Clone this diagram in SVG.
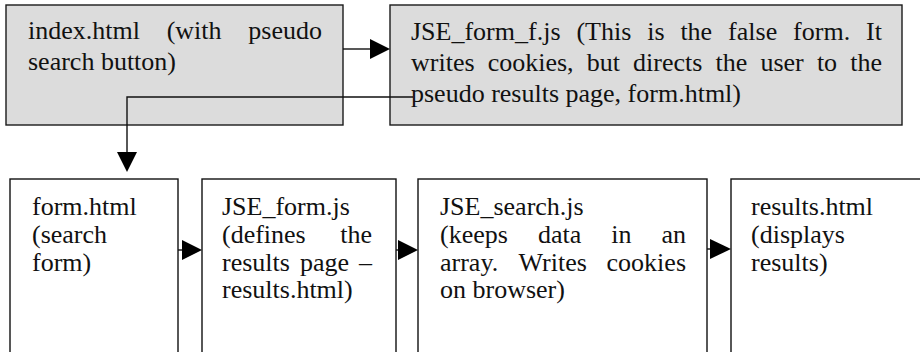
<svg xmlns="http://www.w3.org/2000/svg" width="920" height="352" viewBox="0 0 920 352">
<style>
.top{fill:#dcdcdc;stroke:#1a1a1a;stroke-width:1.4}
.bot{fill:#ffffff;stroke:#111;stroke-width:1.4}
text{font-family:"Liberation Serif","Times New Roman",serif;font-size:26px;fill:#111}
.ln{stroke:#111;stroke-width:1.4;fill:none}
.ah{fill:#000}
</style>
<rect width="920" height="352" fill="#fff"/>
<g id="index">
<rect class="top" x="6" y="5" width="337" height="120"/>
<text y="39"><tspan x="28">index.html</tspan><tspan x="166.7">(with</tspan><tspan x="322" text-anchor="end">pseudo</tspan></text>
<text x="28" y="70">search button)</text>
</g>
<g id="jse_form_f">
<rect class="top" x="390" y="5" width="512" height="120"/>
<text y="40"><tspan x="411">JSE_form_f.js</tspan><tspan x="576.4">(This</tspan><tspan x="647.2">is</tspan><tspan x="680.4">the</tspan><tspan x="728.1">false</tspan><tspan x="793.1">form.</tspan><tspan x="882" text-anchor="end">It</tspan></text>
<text y="71"><tspan x="411">writes</tspan><tspan x="487.7">cookies,</tspan><tspan x="586.8">but</tspan><tspan x="633.1">directs</tspan><tspan x="715.5">the</tspan><tspan x="760.4">user</tspan><tspan x="816.9">to</tspan><tspan x="882" text-anchor="end">the</tspan></text>
<text x="411" y="102">pseudo results page, form.html)</text>
</g>
<g id="form_html">
<rect class="bot" x="10" y="179" width="168" height="190"/>
<text x="32" y="215">form.html</text>
<text x="32" y="243">(search</text>
<text x="32" y="270.5">form)</text>
</g>
<g id="jse_form">
<rect class="bot" x="202" y="179" width="194" height="190"/>
<text x="222" y="215">JSE_form.js</text>
<text y="243"><tspan x="222">(defines</tspan><tspan x="372" text-anchor="end">the</tspan></text>
<text y="270.5"><tspan x="222">results</tspan><tspan x="299.9">page</tspan><tspan x="372" text-anchor="end">–</tspan></text>
<text x="222" y="298">results.html)</text>
</g>
<g id="jse_search">
<rect class="bot" x="418" y="179" width="289" height="190"/>
<text x="440" y="215">JSE_search.js</text>
<text y="243"><tspan x="440">(keeps</tspan><tspan x="537.9">data</tspan><tspan x="611.2">in</tspan><tspan x="686" text-anchor="end">an</tspan></text>
<text y="270.5"><tspan x="440">array.</tspan><tspan x="518.6">Writes</tspan><tspan x="686" text-anchor="end">cookies</tspan></text>
<text x="440" y="298">on browser)</text>
</g>
<g id="results_html">
<rect class="bot" x="731" y="179" width="210" height="190"/>
<text x="751" y="215">results.html</text>
<text x="751" y="243">(displays</text>
<text x="751" y="270.5">results)</text>
</g>
<g id="connectors">
<line class="ln" x1="343" y1="49" x2="372" y2="49"/>
<polygon class="ah" points="370,39 390,49 370,59"/>
<polyline class="ln" points="413,97 127,97 127,154"/>
<polygon class="ah" points="117,152 137,152 127,172"/>
<line class="ln" x1="178" y1="250" x2="184" y2="250"/>
<polygon class="ah" points="182,240 202,250 182,260"/>
<line class="ln" x1="396" y1="250" x2="400" y2="250"/>
<polygon class="ah" points="398,240 418,250 398,260"/>
<line class="ln" x1="707" y1="249" x2="712" y2="249"/>
<polygon class="ah" points="710,239 731,249 710,259"/>
</g>
</svg>
